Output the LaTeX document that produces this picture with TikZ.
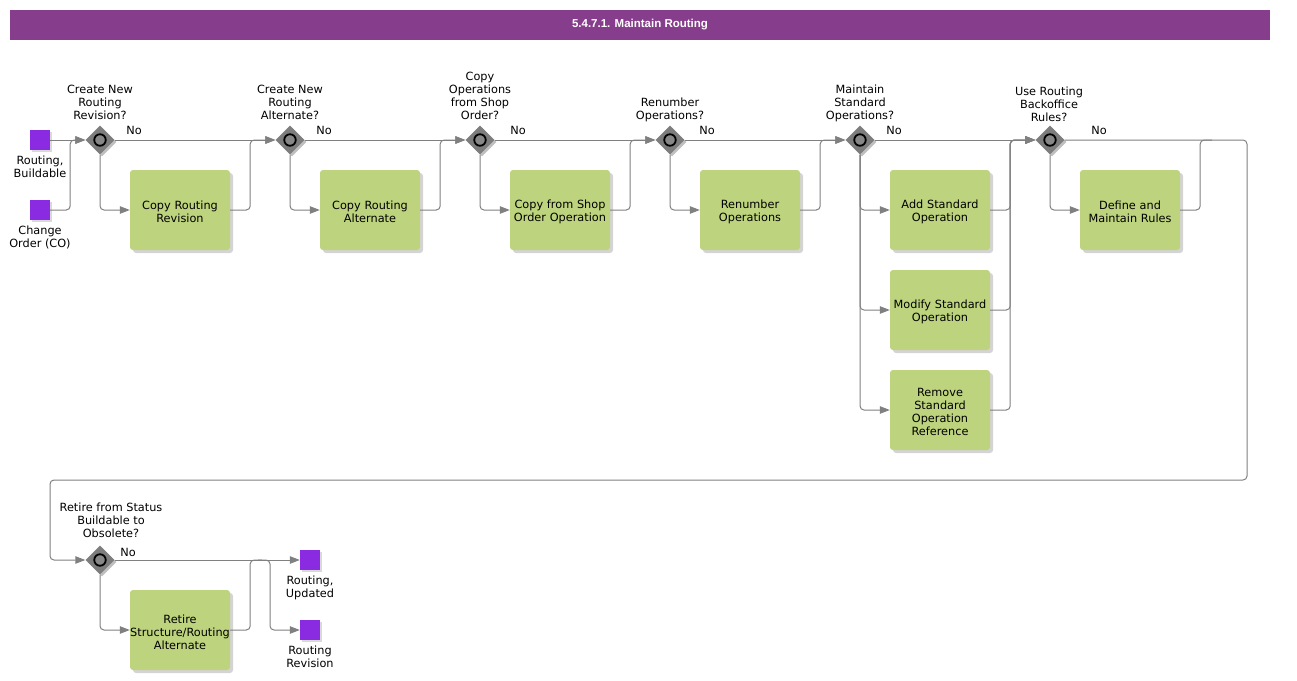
\documentclass[tikz,border=0pt]{standalone}
\usepackage{fontspec}
\setmainfont{DejaVu Sans}
\newfontfamily\titlefont{Liberation Sans}
\usetikzlibrary{arrows.meta,shapes.geometric,shadows,calc}
\definecolor{hdr}{RGB}{134,62,140}
\definecolor{evt}{RGB}{138,43,226}
\definecolor{taskc}{RGB}{189,211,125}
\definecolor{flowc}{RGB}{128,128,128}
\definecolor{gwc}{RGB}{125,125,125}
\definecolor{gwin}{RGB}{135,135,135}
\tikzset{
  txt/.style={inner sep=0pt, align=center, font=\fontsize{11.3}{13}\selectfont},
  gwlabel/.style={txt, anchor=south, text depth=3pt},
  evlabel/.style={txt, anchor=north},
  nolabel/.style={txt},
  taskbox/.style={txt, fill=taskc, rounded corners=3pt, minimum width=100pt, minimum height=80pt, text width=100pt,
    execute at begin node={\rule{0pt}{12.5pt}},
    drop shadow={shadow xshift=3pt, shadow yshift=-3pt, fill=black, opacity=0.17}},
  evbox/.style={fill=evt, minimum size=20pt, inner sep=0pt,
    drop shadow={shadow xshift=2pt, shadow yshift=-2pt, fill=black, opacity=0.15}},
  gwbox/.style={diamond, aspect=1, fill=gwc, minimum width=29pt, minimum height=29pt, inner sep=0pt,
    drop shadow={shadow xshift=2pt, shadow yshift=-2pt, fill=black, opacity=0.25}},
  gwring/.style={circle, draw=black, line width=1.8pt, fill=gwin, minimum size=11.5pt, inner sep=0pt},
  flow/.style={draw=flowc, line width=1pt, rounded corners=4pt, -{Triangle[length=10pt,width=7.5pt]}},
  flowplain/.style={draw=flowc, line width=1pt, rounded corners=4pt},
}
\begin{document}
\begin{tikzpicture}[x=1pt,y=-1pt]
\useasboundingbox (0,0) rectangle (1297,680);
% header
\node[fill=hdr, minimum width=1260pt, minimum height=30pt, inner sep=0pt, text=white,
  font=\titlefont\fontsize{11.5}{13}\selectfont\bfseries] (title) at (640,25) {5.4.7.1. Maintain Routing};

% start events
\node[evbox] (s1) at (40,140) {};
\node[evbox] (s2) at (40,210) {};
\node[evlabel] (s1l) at (40,156) {Routing,\\Buildable};
\node[evlabel] (s2l) at (40,226) {Change\\Order (CO)};

% gateways
\foreach \n/\x in {g1/100,g2/290,g3/480,g4/670,g5/860,g6/1050}{
  \node[gwbox] (\n) at (\x,140) {};
  \node[gwring] (\n r) at (\x,140) {};
}
\node[gwbox] (g7) at (100,560) {};
\node[gwring] (g7r) at (100,560) {};

\node[gwlabel] (g1l) at (100,123) {Create New\\Routing\\Revision?};
\node[gwlabel] (g2l) at (290,123) {Create New\\Routing\\Alternate?};
\node[gwlabel] (g3l) at (480,123) {Copy\\Operations\\from Shop\\Order?};
\node[gwlabel] (g4l) at (670,123) {Renumber\\Operations?};
\node[gwlabel] (g5l) at (860,123) {Maintain\\Standard\\Operations?};
\node[gwlabel] (g6l) at (1049,125) {Use Routing\\Backoffice\\Rules?};
\node[gwlabel] (g7l) at (111,541) {Retire from Status\\Buildable to\\Obsolete?};

% "No" labels
\node[nolabel] (n1) at (134,130) {No};
\node[nolabel] (n2) at (324,130) {No};
\node[nolabel] (n3) at (518,130) {No};
\node[nolabel] (n4) at (707,130) {No};
\node[nolabel] (n5) at (894,130) {No};
\node[nolabel] (n6) at (1099,130) {No};
\node[nolabel] (n7) at (128,552) {No};

% tasks
\node[taskbox] (t1) at (180,210) {Copy Routing\\Revision};
\node[taskbox] (t2) at (370,210) {Copy Routing\\Alternate};
\node[taskbox] (t3) at (560,210) {Copy from Shop\\Order Operation};
\node[taskbox] (t4) at (750,210) {Renumber\\Operations};
\node[taskbox] (t5a) at (940,210) {Add Standard\\Operation};
\node[taskbox] (t5b) at (940,310) {Modify Standard\\Operation};
\node[taskbox] (t5c) at (940,410) {Remove\\Standard\\Operation\\Reference};
\node[taskbox] (t6) at (1130,210) {Define and\\Maintain Rules};
\node[taskbox] (t7) at (180,630) {Retire\\Structure/Routing\\Alternate};

% end events
\node[evbox] (e1) at (310,560) {};
\node[evbox] (e2) at (310,630) {};
\node[evlabel] (e1l) at (310,576) {Routing,\\Updated};
\node[evlabel] (e2l) at (310,646) {Routing\\Revision};

% flows
\draw[flow] (s1) -- (g1.west);
\draw[flow] (s2.east) -- ++(20,0) |- (g1.west);

\draw[flow] (g1.east) -- (g2.west);
\draw[flow] (g1.south) |- (t1.west);
\draw[flow] (t1.east) -- ++(20,0) |- (g2.west);

\draw[flow] (g2.east) -- (g3.west);
\draw[flow] (g2.south) |- (t2.west);
\draw[flow] (t2.east) -- ++(20,0) |- (g3.west);

\draw[flow] (g3.east) -- (g4.west);
\draw[flow] (g3.south) |- (t3.west);
\draw[flow] (t3.east) -- ++(20,0) |- (g4.west);

\draw[flow] (g4.east) -- (g5.west);
\draw[flow] (g4.south) |- (t4.west);
\draw[flow] (t4.east) -- ++(20,0) |- (g5.west);

\draw[flow] (g5.east) -- (g6.west);
\draw[flow] (g5.south) |- (t5a.west);
\draw[flow] (g5.south) |- (t5b.west);
\draw[flow] (g5.south) |- (t5c.west);
\draw[flow] (t5a.east) -- ++(20,0) |- (g6.west);
\draw[flow] (t5b.east) -- ++(20,0) |- (g6.west);
\draw[flow] (t5c.east) -- ++(20,0) |- (g6.west);

\coordinate (loopR) at (1247,480);
\coordinate (loopL) at (50,480);
\draw[flow] (g6.east) -| (loopR) -- (loopL) |- (g7.west);
\draw[flow] (g6.south) |- (t6.west);
\draw[flowplain] (t6.east) -- ++(20,0) -- ++(0,-70) -- ++(12,0);

\draw[flow] (g7.east) -- (e1.west);
\draw[flow] (g7.south) |- (t7.west);
\draw[flowplain] (t7.east) -- ++(20,0) -- ++(0,-70) -- ++(12,0);
\coordinate (br) at (258,560);
\draw[flow] (br) -- ++(12,0) |- (e2.west);
\end{tikzpicture}
\end{document}
